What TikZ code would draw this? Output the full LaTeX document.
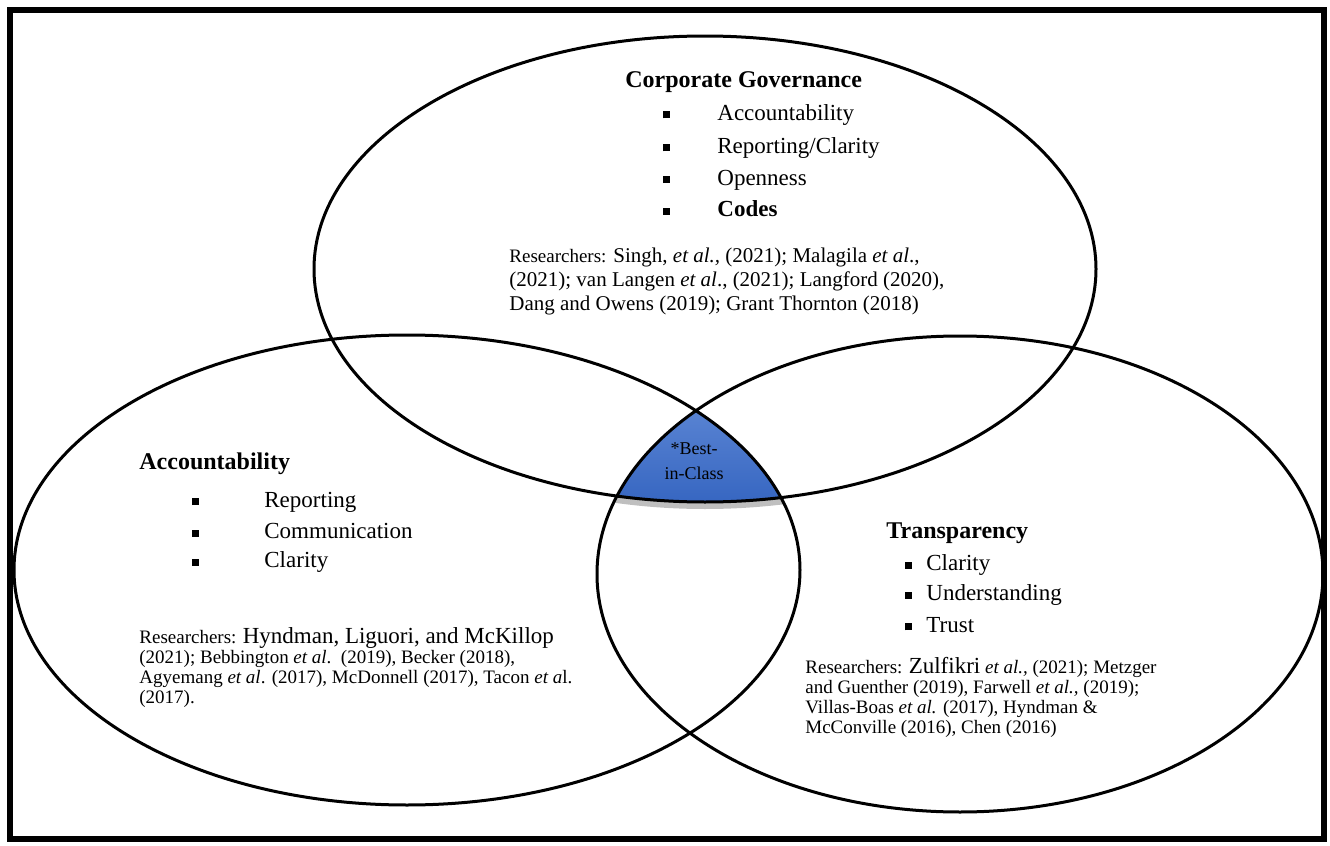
\documentclass[tikz,border=0pt]{standalone}
\usepackage{fontspec}
\setmainfont{Liberation Serif}
\definecolor{bestTop}{RGB}{92,134,212}
\definecolor{bestBot}{RGB}{52,100,192}
\newcommand{\bul}{\raisebox{1pt}{\rule{3.5pt}{3.5pt}}}
\newcommand{\refsz}{\fontsize{9.5}{10}\selectfont}
\newcommand{\namesz}{\fontsize{11.5}{10}\selectfont}
\tikzset{
  ring/.style={line width=1.5pt},
  head/.style={anchor=west, inner sep=0pt, font=\fontsize{12}{14}\selectfont\bfseries},
  itm/.style={anchor=west, inner sep=0pt, font=\fontsize{11.5}{14}\selectfont},
  refs/.style={anchor=north west, align=left, inner sep=0pt}
}
\begin{document}
\begin{tikzpicture}[x=0.5pt,y=-0.5pt]
\useasboundingbox (0,0) rectangle (1330,846);

% best-in-class area, common to all three
\begin{scope}
  \clip (407,570) ellipse [x radius=393, y radius=235];
  \clip (960,574) ellipse [x radius=363, y radius=238];
  \draw[gray, line width=3pt, opacity=.5] (705,273) ellipse [x radius=391, y radius=233];
  \clip (705,269) ellipse [x radius=391, y radius=233];
  \shade[top color=bestTop, bottom color=bestBot] (590,400) rectangle (800,510);
\end{scope}

\draw[ring] (705,269) ellipse [x radius=391, y radius=233];
\draw[ring] (407,570) ellipse [x radius=393, y radius=235];
\draw[ring] (960,574) ellipse [x radius=363, y radius=238];
\draw[line width=3pt] (10,10) rectangle (1324,839);

\node[align=center, inner sep=0pt, font=\fontsize{9}{12.5}\selectfont] (best) at (694,461) {*Best-\\in-Class};

% corporate governance
\node[head] (cg) at (625,82) {Corporate Governance};
\node[itm] (cg1) at (663,115) {\makebox[27pt][l]{\bul}Accountability};
\node[itm] (cg2) at (663,148) {\makebox[27pt][l]{\bul}Reporting/Clarity};
\node[itm] (cg3) at (663,180) {\makebox[27pt][l]{\bul}Openness};
\node[itm] (cg4) at (663,209) {\makebox[27pt][l]{\bul}\textbf{Codes}};
\node[refs, font=\fontsize{10.5}{12}\selectfont] (cgref) at (509,248)
  {{\refsz Researchers:} Singh, \textit{et al.,} (2021); Malagila \textit{et al}.,\\
   (2021); van Langen \textit{et al}., (2021); Langford (2020),\\
   Dang and Owens (2019); Grant Thornton (2018)};

% accountability
\node[head] (ac) at (139,464) {Accountability};
\node[itm] (ac1) at (192,502) {\makebox[36pt][l]{\bul}Reporting};
\node[itm] (ac2) at (192,531) {\makebox[36pt][l]{\bul}Communication};
\node[itm] (ac3) at (192,562) {\makebox[36pt][l]{\bul}Clarity};
\node[refs, font=\refsz] (acref) at (139,627)
  {Researchers: {\namesz Hyndman, Liguori, and McKillop}\\
   (2021); Bebbington \textit{et al}.\ \ (2019), Becker (2018),\\
   Agyemang \textit{et al}. (2017), McDonnell (2017), Tacon \textit{et a}l.\\
   (2017).};

% transparency
\node[head] (tr) at (886,533) {Transparency};
\node[itm] (tr1) at (905,565) {\makebox[10.5pt][l]{\bul}Clarity};
\node[itm] (tr2) at (905,595) {\makebox[10.5pt][l]{\bul}Understanding};
\node[itm] (tr3) at (905,625) {\makebox[10.5pt][l]{\bul}Trust};
\node[refs, font=\refsz] (trref) at (805,657)
  {Researchers: {\namesz Zulfikri} \textit{et al.,} (2021); Metzger\\
   and Guenther (2019), Farwell \textit{et al.,} (2019);\\
   Villas-Boas \textit{et al.} (2017), Hyndman \&\\
   McConville (2016), Chen (2016)};
\end{tikzpicture}
\end{document}
